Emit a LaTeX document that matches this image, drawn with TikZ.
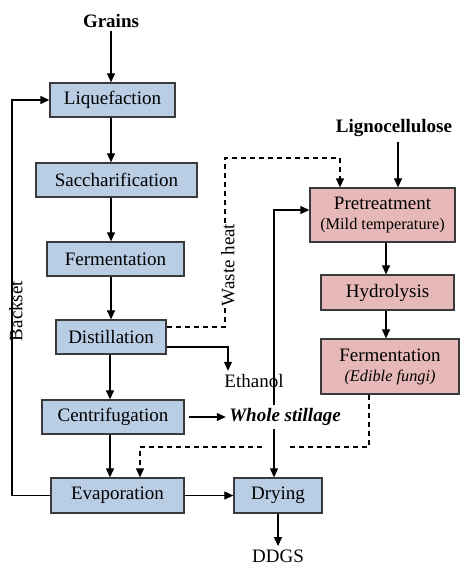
\documentclass[tikz,border=0pt]{standalone}
\usepackage{fontspec}
\setmainfont{Liberation Serif}
\usetikzlibrary{arrows.meta}
\definecolor{boxblue}{HTML}{B9CDE5}
\definecolor{boxpink}{HTML}{E6B9B8}
\definecolor{boxedge}{HTML}{3A3A3A}
\newcommand{\subsz}{\fontsize{16.3}{19}\selectfont}
\begin{document}
\begin{tikzpicture}[x=1pt,y=-1pt,
  font=\fontsize{19}{22}\selectfont,
  bluebox/.style={draw=boxedge,fill=boxblue,line width=1.3pt,inner sep=0pt,minimum height=34pt},
  pinkbox/.style={draw=boxedge,fill=boxpink,line width=1.3pt,inner sep=0pt,align=center},
  flow/.style={line width=1.2pt,-{Triangle[length=9pt,width=8pt]}},
  dashflow/.style={line width=1.1pt,dash pattern=on 5pt off 4pt,-{Triangle[length=9pt,width=8pt]}},
  dashline/.style={line width=1.1pt,dash pattern=on 5pt off 4pt}]
\useasboundingbox (0,0) rectangle (466,574);
% blue boxes
\node[bluebox,minimum width=125pt] (liq) at (112.5,100) {Liquefaction};
\node[bluebox,minimum width=161pt] (sac) at (116.5,180) {Saccharification};
\node[bluebox,minimum width=137pt] (fer) at (115.5,259) {Fermentation};
\node[bluebox,minimum width=110pt] (dis) at (111,337) {Distillation};
\node[bluebox,minimum width=142pt] (cen) at (113,417) {Centrifugation};
\node[bluebox,minimum width=133pt,minimum height=35pt] (eva) at (117.5,495.5) {Evaporation};
\node[bluebox,minimum width=88pt,minimum height=35pt] (dry) at (278,495.5) {Drying};
% pink boxes
\node[pinkbox,minimum width=145pt,minimum height=54pt] (pre) at (382.5,215) {Pretreatment\\[-2pt]{\subsz (Mild temperature)}};
\node[pinkbox,minimum width=133pt,minimum height=35pt] (hyd) at (387.5,292.5) {Hydrolysis};
\node[pinkbox,minimum width=138pt,minimum height=55pt] (ffu) at (390,366.5) {Fermentation\\[-2pt]{\subsz\itshape (Edible fungi)}};
% texts
\node[font=\fontsize{19}{22}\selectfont\bfseries] (grains) at (111,21) {Grains};
\node[font=\fontsize{19}{22}\selectfont\bfseries] (ligno) at (394,128) {Lignocellulose};
\node (eth) at (254,381) {Ethanol};
\node (ddgs) at (278,556) {DDGS};
\node[font=\fontsize{19}{22}\selectfont\bfseries\itshape] (ws) at (285,417) {Whole stillage};
\node[rotate=90] (backset) at (16,311) {Backset};
% main chain (vertical arrows)
\coordinate (ax) at (111,0);
\coordinate (cx) at (110,0);
\draw[flow] (grains.south -| ax) -- (liq.north -| ax);
\draw[flow] (liq.south -| ax) -- (sac.north -| ax);
\draw[flow] (sac.south -| ax) -- (fer.north -| ax);
\draw[flow] (fer.south -| ax) -- (dis.north -| ax);
\draw[flow] (dis.south -| cx) -- (cen.north -| cx);
\draw[flow] (cen.south -| cx) -- (eva.north -| cx);
\draw[flow] (eva) -- (dry);
\draw[flow] (dry) -- (ddgs);
% backset
\coordinate (bs) at (12,0);
\draw[line width=1.2pt] (eva.west) -| (bs |- backset.east);
\draw[flow] (bs |- backset.west) |- (liq.west);
% ethanol
\coordinate (ex) at (228,0);
\draw[flow] ([yshift=-10pt]dis.east) -| (ex |- eth.north);
% waste heat
\coordinate (wx) at (225,158);
\coordinate (px) at (340,158);
\node[rotate=90,fill=white,inner sep=1pt] (wh) at (228,265) {Waste heat};
\draw[dashline] ([yshift=10pt]dis.east) -| (wh.west -| wx);
\draw[dashflow] (wh.east -| wx) -- (wx) -- (px) -- (pre.north -| px);
% lignocellulose
\coordinate (lx) at (398,142);
\draw[flow] (lx) -- (pre.north -| lx);
\coordinate (hx) at (386,0);
\draw[flow] (pre.south -| hx) -- (hyd.north -| hx);
\draw[flow] (hyd.south -| hx) -- (ffu.north -| hx);
% whole stillage
\draw[flow] ([xshift=4pt]cen.east) -- (ws.west);
\coordinate (sx) at (274,210);
\draw[flow] (ws.north -| sx) -- (sx) -- ([yshift=5pt]pre.west);
\draw[flow] (ws.south -| sx) -- (dry.north -| sx);
% fungi residue to evaporation
\coordinate (fx) at (369,447);
\coordinate (ex2) at (140,447);
\draw[dashline] (ffu.south -| fx) -- (fx) -- (287,447);
\draw[dashflow] (262,447) -- (ex2) -- (eva.north -| ex2);
\end{tikzpicture}
\end{document}
